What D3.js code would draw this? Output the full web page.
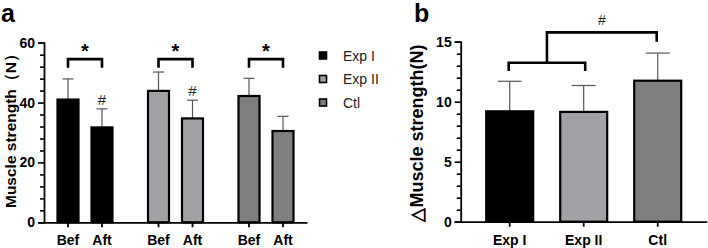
<!DOCTYPE html>
<html>
<head>
<meta charset="utf-8">
<script src="https://cdn.jsdelivr.net/npm/d3@7"></script>
<style>
  body { margin: 0; background: #fff; }
  svg { display: block; font-family: "Liberation Sans", Arial, sans-serif; }
</style>
</head>
<body>
<svg id="chart" width="708" height="248"></svg>
<script>
// DATA
const groups = ["Exp I", "Exp II", "Ctl"];
const phases = ["Bef", "Aft"];
const befMeans = [41, 43.9, 42.2];
const befErr = [6.9, 6.3, 5.9];
const aftMeans = [31.7, 34.7, 30.5];
const aftErr = [6.2, 6.1, 4.9];
const aftHash = [true, true, false];
const deltaMeans = [9.2, 9.15, 11.75];
const deltaErr = [2.5, 2.2, 2.3];
const yTicksA = [0, 20, 40, 60];
const yTicksB = [0, 5, 10, 15];

const colors = ["#000000", "#a2a2a6", "#7f7f7f"];

const svg = d3.select("#chart");

// ---------- PANEL A ----------
const ax0 = 44, ax1 = 307;
const yA = d3.scaleLinear().domain([0, 60]).range([222.3, 42.7]);
const xGroupA = d3.scalePoint().domain(groups).range([ax0, ax1]).padding(0.453);
const xInA = d3.scalePoint().domain(phases).range([-17, 17]);
const barWA = 21;

const ga = svg.append("g");

const dataA = [];
groups.forEach((g, i) => {
  dataA.push({ group: g, phase: "Bef", v: befMeans[i], e: befErr[i], i });
  dataA.push({ group: g, phase: "Aft", v: aftMeans[i], e: aftErr[i], i, hash: aftHash[i] });
});
const cx = (d) => xGroupA(d.group) + xInA(d.phase);

// error bars (behind bars)
ga.selectAll(".errA").data(dataA).join("g").attr("class", "errA")
  .call((s) => s.append("line")
    .attr("x1", cx).attr("x2", cx)
    .attr("y1", (d) => yA(d.v)).attr("y2", (d) => yA(d.v + d.e))
    .attr("stroke", "#555").attr("stroke-width", 1.2))
  .call((s) => s.append("line")
    .attr("x1", (d) => cx(d) - 5.5).attr("x2", (d) => cx(d) + 5.5)
    .attr("y1", (d) => yA(d.v + d.e)).attr("y2", (d) => yA(d.v + d.e))
    .attr("stroke", "#555").attr("stroke-width", 1.2));

ga.selectAll(".barA").data(dataA).join("rect").attr("class", "barA")
  .attr("x", (d) => cx(d) - barWA / 2)
  .attr("width", barWA)
  .attr("y", (d) => yA(d.v))
  .attr("height", (d) => yA(0) - yA(d.v))
  .attr("fill", (d) => colors[d.i])
  .attr("stroke", "#000").attr("stroke-width", 2.2);

// # marks
ga.selectAll(".hashA").data(dataA.filter((d) => d.hash)).join("text")
  .attr("x", cx).attr("y", (d) => yA(d.v + d.e) - 4)
  .attr("text-anchor", "middle").attr("font-size", 15).attr("fill", "#222")
  .text("#");

// brackets + stars
groups.forEach((g) => {
  const xl = xGroupA(g) + xInA("Bef"), xr = xGroupA(g) + xInA("Aft");
  const yt = yA(54.5), yb = yA(51.6);
  ga.append("path")
    .attr("d", `M${xl},${yb}V${yt}H${xr}V${yb}`)
    .attr("fill", "none").attr("stroke", "#000").attr("stroke-width", 2.6);
  ga.append("text").attr("x", (xl + xr) / 2).attr("y", yA(54.5) - 1)
    .attr("text-anchor", "middle").attr("font-size", 20).attr("font-weight", "bold")
    .text("*");
});

// axes
ga.append("g").attr("transform", `translate(${ax0},0)`)
  .call(d3.axisLeft(yA).tickValues(yTicksA).tickSize(6).tickPadding(3).tickFormat(d3.format("d")));
ga.append("g").attr("transform", `translate(${ax0},0)`)
  .call(d3.axisLeft(yA).tickValues(d3.range(0, 61, 4).filter((v) => v % 20 !== 0)).tickSize(4).tickFormat(""))
  .call((g) => g.select(".domain").remove());

ga.append("g").attr("transform", `translate(0,${yA(0)})`)
  .call(d3.axisBottom(d3.scaleLinear().range([ax0, ax1])).tickValues([]).tickSizeOuter(0));
ga.selectAll(".xtA").data(dataA).join("g").attr("class", "xtA")
  .call((s) => s.append("line").attr("x1", cx).attr("x2", cx)
    .attr("y1", yA(0)).attr("y2", yA(0) + 5).attr("stroke", "#000").attr("stroke-width", 1.8))
  .call((s) => s.append("text").attr("x", cx).attr("y", 244.5)
    .attr("text-anchor", "middle").attr("font-size", 14).attr("font-weight", "bold")
    .text((d) => d.phase));

ga.append("text")
  .attr("transform", `translate(16,127) rotate(-90)`)
  .attr("text-anchor", "middle").attr("font-size", 15.5).attr("font-weight", "bold")
  .text("Muscle strength（N）");

ga.append("text").attr("x", 1).attr("y", 21.5)
  .attr("font-size", 25).attr("font-weight", "bold").text("a");

// legend
const leg = ga.selectAll(".leg").data(groups).join("g").attr("class", "leg")
  .attr("transform", (d, i) => `translate(323,${55.5 + i * 23.5})`);
leg.append("rect").attr("x", -3.5).attr("y", -3.5).attr("width", 7).attr("height", 7)
  .attr("fill", (d, i) => colors[i]).attr("stroke", "#000").attr("stroke-width", 1.6);
leg.append("text").attr("x", 20).attr("y", 5).attr("font-size", 14).attr("fill", "#222")
  .text((d) => d);

// ---------- PANEL B ----------
const bx0 = 460.7, bx1 = 706.7;
const yB = d3.scaleLinear().domain([0, 15]).range([221.7, 41.7]);
const xB = d3.scalePoint().domain(groups).range([bx0, bx1]).padding(0.662);
const barWB = 47;

const gb = svg.append("g");
const dataB = groups.map((g, i) => ({ group: g, v: deltaMeans[i], e: deltaErr[i], i }));

gb.selectAll(".errB").data(dataB).join("g").attr("class", "errB")
  .call((s) => s.append("line")
    .attr("x1", (d) => xB(d.group)).attr("x2", (d) => xB(d.group))
    .attr("y1", (d) => yB(d.v)).attr("y2", (d) => yB(d.v + d.e))
    .attr("stroke", "#555").attr("stroke-width", 1.2))
  .call((s) => s.append("line")
    .attr("x1", (d) => xB(d.group) - 12).attr("x2", (d) => xB(d.group) + 12)
    .attr("y1", (d) => yB(d.v + d.e)).attr("y2", (d) => yB(d.v + d.e))
    .attr("stroke", "#555").attr("stroke-width", 1.2));

gb.selectAll(".barB").data(dataB).join("rect").attr("class", "barB")
  .attr("x", (d) => xB(d.group) - barWB / 2)
  .attr("width", barWB)
  .attr("y", (d) => yB(d.v))
  .attr("height", (d) => yB(0) - yB(d.v))
  .attr("fill", (d) => colors[d.i])
  .attr("stroke", "#000").attr("stroke-width", 2.2);

// brackets
{
  const xl = xB(groups[0]) - 1, xr = xB(groups[1]) + 1.5;
  const ylo = yB(13.25), ylb = yB(12.56);
  const xm = (xl + xr) / 2;
  const yup = yB(15.78), yrb = yB(15.0);
  const xc = xB(groups[2]) - 1;
  gb.append("path").attr("d", `M${xl},${ylb}V${ylo}H${xr}V${ylb}`)
    .attr("fill", "none").attr("stroke", "#000").attr("stroke-width", 2.6);
  gb.append("path").attr("d", `M${xm},${ylo}V${yup}H${xc}V${yrb}`)
    .attr("fill", "none").attr("stroke", "#000").attr("stroke-width", 2.6);
  gb.append("text").attr("x", (xm + xc) / 2).attr("y", 24.5)
    .attr("text-anchor", "middle").attr("font-size", 14).attr("fill", "#222").text("#");
}

gb.append("g").attr("transform", `translate(${bx0},0)`)
  .call(d3.axisLeft(yB).tickValues(yTicksB).tickSize(6).tickPadding(3).tickFormat(d3.format("d")));
gb.append("g").attr("transform", `translate(${bx0},0)`)
  .call(d3.axisLeft(yB).tickValues(d3.range(0, 16, 1).filter((v) => v % 5 !== 0)).tickSize(4).tickFormat(""))
  .call((g) => g.select(".domain").remove());
gb.append("g").attr("transform", `translate(0,${yB(0)})`)
  .call(d3.axisBottom(d3.scaleLinear().range([bx0, bx1])).tickValues([]).tickSizeOuter(0));
gb.selectAll(".xtB").data(dataB).join("g").attr("class", "xtB")
  .call((s) => s.append("line").attr("x1", (d) => xB(d.group)).attr("x2", (d) => xB(d.group))
    .attr("y1", yB(0)).attr("y2", yB(0) + 5).attr("stroke", "#000").attr("stroke-width", 1.8))
  .call((s) => s.append("text").attr("x", (d) => xB(d.group)).attr("y", 244.5)
    .attr("text-anchor", "middle").attr("font-size", 14).attr("font-weight", "bold")
    .text((d) => d.group));

gb.append("text")
  .attr("transform", `translate(423,133) rotate(-90)`)
  .attr("text-anchor", "middle").attr("font-size", 18).attr("font-weight", "bold")
  .text("△Muscle strength(N)");

gb.append("text").attr("x", 414).attr("y", 21.5)
  .attr("font-size", 25).attr("font-weight", "bold").text("b");

// axis styling
svg.selectAll(".domain").attr("stroke", "#000").attr("stroke-width", 1.8);
svg.selectAll(".tick line").attr("stroke", "#000").attr("stroke-width", 1.6);
svg.selectAll(".tick text").attr("font-size", 14).attr("font-weight", "bold")
  .attr("font-family", "'Liberation Sans', Arial, sans-serif").attr("fill", "#000");
</script>
</body>
</html>
